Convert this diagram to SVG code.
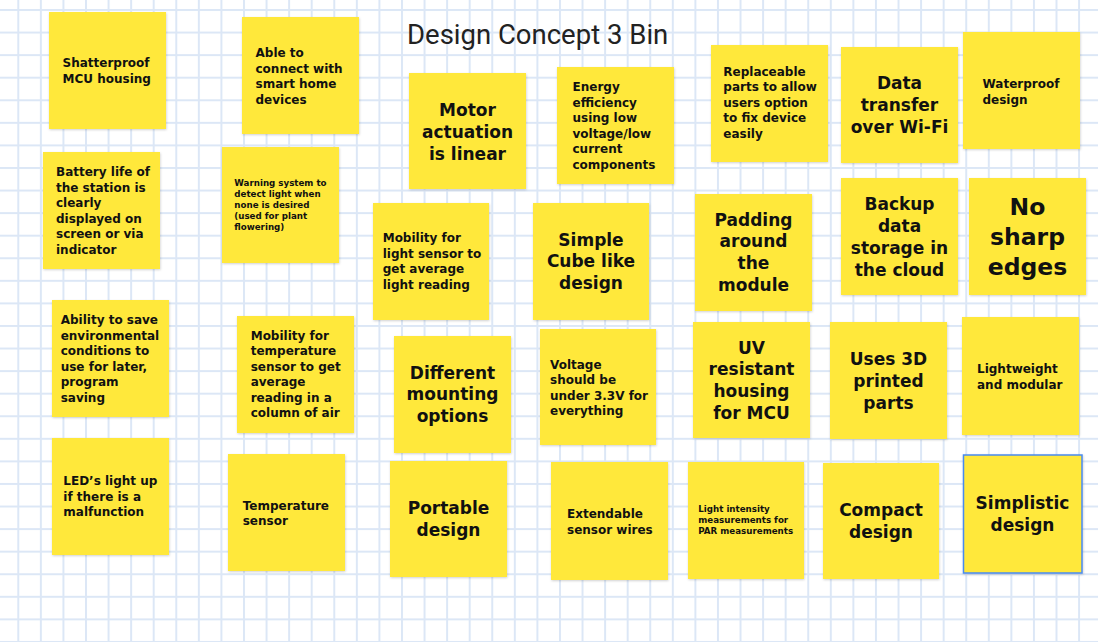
<svg xmlns="http://www.w3.org/2000/svg" width="1098" height="642" viewBox="0 0 1098 642">
<style>
.note{fill:#FFE83A;filter:url(#sh)}
.sel{stroke:#4A8AF0;stroke-width:1.5}
text{font-family:"DejaVu Sans","Open Sans",sans-serif;font-weight:bold;fill:#111}
.s{font-size:8.7px}
.m{font-size:12px}
.l{font-size:17px;text-anchor:middle}
.xl{font-size:23.5px;text-anchor:middle}
.title{font-family:Roboto,"Liberation Sans",sans-serif;font-weight:normal;font-size:27.5px;fill:#222}
</style>
<defs>
<pattern id="grid" patternUnits="userSpaceOnUse" x="17.3" y="9" width="22.57" height="22.57">
<rect x="0" y="0" width="2" height="22.57" fill="#DCE7F6"/>
<rect x="0" y="0" width="22.57" height="2" fill="#DCE7F6"/>
</pattern>
<filter id="sh" x="-5%" y="-5%" width="115%" height="115%">
<feDropShadow dx="0.5" dy="1" stdDeviation="0.8" flood-color="#000" flood-opacity="0.18"/>
</filter>
</defs>
<rect width="1098" height="642" fill="#fff"/>
<rect width="1098" height="642" fill="url(#grid)"/>
<text class="title" x="407" y="44">Design Concept 3 Bin</text>

<g id="n1"><rect class="note" x="49" y="12" width="117" height="117"/>
<text class="m" x="62.5"><tspan x="62.5" y="67">Shatterproof</tspan><tspan x="62.5" y="83">MCU housing</tspan></text></g>

<g id="n2"><rect class="note" x="242" y="17" width="117" height="117"/>
<text class="m"><tspan x="255.5" y="57">Able to</tspan><tspan x="255.5" y="72.5">connect with</tspan><tspan x="255.5" y="88">smart home</tspan><tspan x="255.5" y="103.5">devices</tspan></text></g>

<g id="n3"><rect class="note" x="43" y="152" width="117" height="117"/>
<text class="m"><tspan x="56" y="176">Battery life of</tspan><tspan x="56" y="191.6">the station is</tspan><tspan x="56" y="207.2">clearly</tspan><tspan x="56" y="222.8">displayed on</tspan><tspan x="56" y="238.4">screen or via</tspan><tspan x="56" y="254">indicator</tspan></text></g>

<g id="n4"><rect class="note" x="222" y="147" width="117" height="116"/>
<text class="s"><tspan x="234.3" y="186">Warning system to</tspan><tspan x="234.3" y="197">detect light when</tspan><tspan x="234.3" y="208">none is desired</tspan><tspan x="234.3" y="219">(used for plant</tspan><tspan x="234.3" y="230">flowering)</tspan></text></g>

<g id="n5"><rect class="note" x="409" y="73" width="117" height="116"/>
<text class="l"><tspan x="467.5" y="116">Motor</tspan><tspan x="467.5" y="138">actuation</tspan><tspan x="467.5" y="160">is linear</tspan></text></g>

<g id="n6"><rect class="note" x="557" y="67" width="117" height="117"/>
<text class="m"><tspan x="572.5" y="91">Energy</tspan><tspan x="572.5" y="106.5">efficiency</tspan><tspan x="572.5" y="122">using low</tspan><tspan x="572.5" y="137.5">voltage/low</tspan><tspan x="572.5" y="153">current</tspan><tspan x="572.5" y="168.5">components</tspan></text></g>

<g id="n7"><rect class="note" x="711" y="45" width="117" height="117"/>
<text class="m"><tspan x="723.3" y="75.5">Replaceable</tspan><tspan x="723.3" y="91">parts to allow</tspan><tspan x="723.3" y="106.5">users option</tspan><tspan x="723.3" y="122">to fix device</tspan><tspan x="723.3" y="137.5">easily</tspan></text></g>

<g id="n8"><rect class="note" x="841" y="47" width="117" height="116"/>
<text class="l"><tspan x="899.5" y="89">Data</tspan><tspan x="899.5" y="111">transfer</tspan><tspan x="899.5" y="133">over Wi-Fi</tspan></text></g>

<g id="n9"><rect class="note" x="963" y="32" width="117" height="117"/>
<text class="m"><tspan x="982.5" y="88">Waterproof</tspan><tspan x="982.5" y="103.5">design</tspan></text></g>

<g id="n10"><rect class="note" x="841" y="178" width="117" height="117"/>
<text class="l"><tspan x="899.5" y="209.5">Backup</tspan><tspan x="899.5" y="231.5">data</tspan><tspan x="899.5" y="253.5">storage in</tspan><tspan x="899.5" y="275.5">the cloud</tspan></text></g>

<g id="n11"><rect class="note" x="969" y="178" width="117" height="117"/>
<text class="xl"><tspan x="1027.5" y="215">No</tspan><tspan x="1027.5" y="245">sharp</tspan><tspan x="1027.5" y="275">edges</tspan></text></g>

<g id="n12"><rect class="note" x="373" y="203" width="116" height="117"/>
<text class="m"><tspan x="382.7" y="242">Mobility for</tspan><tspan x="382.7" y="257.5">light sensor to</tspan><tspan x="382.7" y="273">get average</tspan><tspan x="382.7" y="288.5">light reading</tspan></text></g>

<g id="n13"><rect class="note" x="533" y="203" width="116" height="117"/>
<text class="l"><tspan x="591" y="245.5">Simple</tspan><tspan x="591" y="267">Cube like</tspan><tspan x="591" y="288.5">design</tspan></text></g>

<g id="n14"><rect class="note" x="695" y="194" width="117" height="117"/>
<text class="l"><tspan x="753.5" y="225.5">Padding</tspan><tspan x="753.5" y="247">around</tspan><tspan x="753.5" y="269">the</tspan><tspan x="753.5" y="291">module</tspan></text></g>

<g id="n15"><rect class="note" x="52" y="300" width="117" height="117"/>
<text class="m"><tspan x="60.7" y="324">Ability to save</tspan><tspan x="60.7" y="339.5">environmental</tspan><tspan x="60.7" y="355">conditions to</tspan><tspan x="60.7" y="370.5">use for later,</tspan><tspan x="60.7" y="386">program</tspan><tspan x="60.7" y="401.5">saving</tspan></text></g>

<g id="n16"><rect class="note" x="237" y="316" width="117" height="117"/>
<text class="m"><tspan x="250.7" y="339.5">Mobility for</tspan><tspan x="250.7" y="355">temperature</tspan><tspan x="250.7" y="370.5">sensor to get</tspan><tspan x="250.7" y="386">average</tspan><tspan x="250.7" y="401.5">reading in a</tspan><tspan x="250.7" y="417">column of air</tspan></text></g>

<g id="n17"><rect class="note" x="394" y="336" width="117" height="117"/>
<text class="l"><tspan x="452.5" y="378.5">Different</tspan><tspan x="452.5" y="400">mounting</tspan><tspan x="452.5" y="421.5">options</tspan></text></g>

<g id="n18"><rect class="note" x="540" y="329" width="116" height="116"/>
<text class="m"><tspan x="550" y="368.5">Voltage</tspan><tspan x="550" y="384">should be</tspan><tspan x="550" y="399.5">under 3.3V for</tspan><tspan x="550" y="415">everything</tspan></text></g>

<g id="n19"><rect class="note" x="693" y="322" width="117" height="116"/>
<text class="l"><tspan x="751.5" y="353.5">UV</tspan><tspan x="751.5" y="375">resistant</tspan><tspan x="751.5" y="397">housing</tspan><tspan x="751.5" y="419">for MCU</tspan></text></g>

<g id="n20"><rect class="note" x="830" y="322" width="117" height="117"/>
<text class="l"><tspan x="888.5" y="365">Uses 3D</tspan><tspan x="888.5" y="387">printed</tspan><tspan x="888.5" y="409">parts</tspan></text></g>

<g id="n21"><rect class="note" x="962" y="317" width="117" height="118"/>
<text class="m"><tspan x="977" y="373">Lightweight</tspan><tspan x="977" y="388.5">and modular</tspan></text></g>

<g id="n22"><rect class="note" x="52" y="438" width="117" height="117"/>
<text class="m"><tspan x="63.3" y="485">LED’s light up</tspan><tspan x="63.3" y="500.5">if there is a</tspan><tspan x="63.3" y="516">malfunction</tspan></text></g>

<g id="n23"><rect class="note" x="228" y="454" width="117" height="117"/>
<text class="m"><tspan x="242.7" y="509.5">Temperature</tspan><tspan x="242.7" y="525">sensor</tspan></text></g>

<g id="n24"><rect class="note" x="390" y="461" width="117" height="116"/>
<text class="l"><tspan x="448.5" y="513.5">Portable</tspan><tspan x="448.5" y="535.5">design</tspan></text></g>

<g id="n25"><rect class="note" x="551" y="462" width="117" height="118"/>
<text class="m"><tspan x="567" y="518">Extendable</tspan><tspan x="567" y="533.5">sensor wires</tspan></text></g>

<g id="n26"><rect class="note" x="688" y="462" width="116" height="117"/>
<text class="s"><tspan x="698.3" y="512">Light intensity</tspan><tspan x="698.3" y="523">measurements for</tspan><tspan x="698.3" y="534">PAR measurements</tspan></text></g>

<g id="n27"><rect class="note" x="823" y="463" width="116" height="116"/>
<text class="l"><tspan x="881" y="516">Compact</tspan><tspan x="881" y="538">design</tspan></text></g>

<g id="n28"><rect class="note sel" x="963.5" y="455" width="118.5" height="118"/>
<text class="l"><tspan x="1022.5" y="508.5">Simplistic</tspan><tspan x="1022.5" y="530.5">design</tspan></text></g>

<g id="connectors"/>
</svg>
